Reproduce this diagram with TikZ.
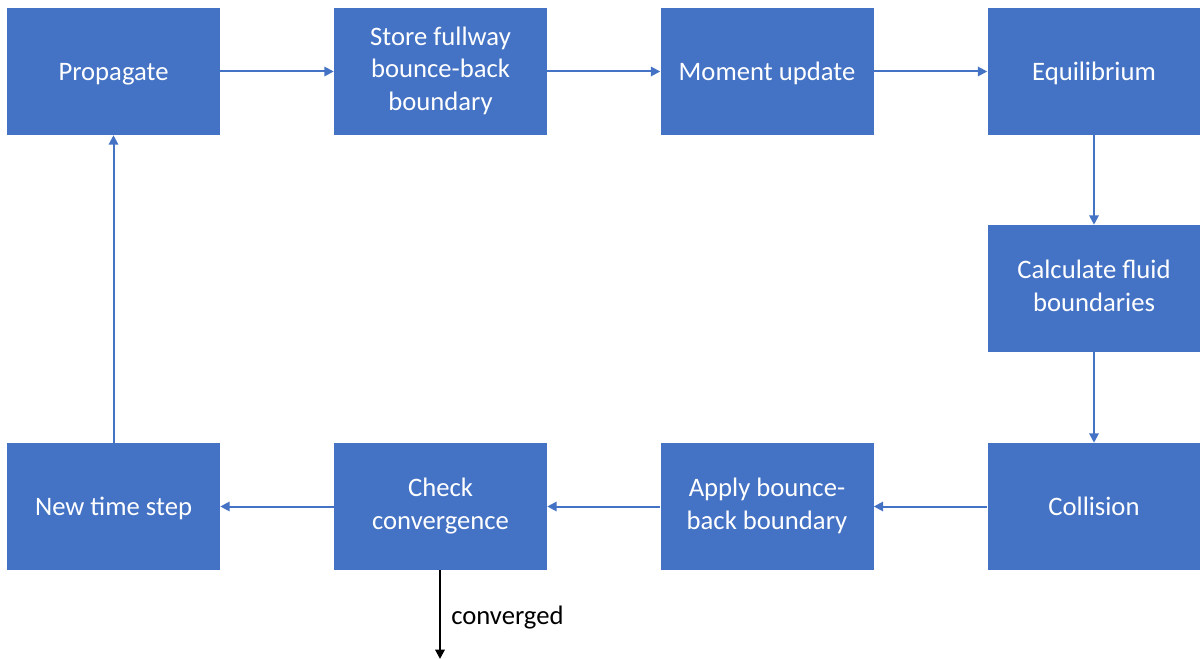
\documentclass[tikz,border=0pt]{standalone}
\usepackage{fontspec}
\setmainfont{Carlito}
\usetikzlibrary{arrows.meta}
\definecolor{boxblue}{HTML}{4472C4}
\tikzset{
  stepbox/.style={fill=boxblue, draw=none, text=white, align=center,
    minimum width=213*0.75pt, minimum height=127*0.75pt, inner sep=0pt,
    font=\fontsize{20}{24.5}\selectfont,
    % fixed struts so every label sits at the same height in its box
    execute at begin node={\rule{0pt}{17.5pt}},
    execute at end node={\rule[-4.5pt]{0pt}{4.5pt}}},
  flow/.style={draw=boxblue, line width=1.5pt,
    -{Triangle[length=7pt,width=7pt]}},
  exitflow/.style={draw=black, line width=1.5pt,
    -{Triangle[length=7pt,width=7pt]}}
}
\begin{document}
\begin{tikzpicture}[x=0.75pt,y=-0.75pt]
\useasboundingbox (0,0) rectangle (1200,659);
% top row
\node[stepbox] (prop)  at (113.5,71.5) {Propagate};
\node[stepbox] (store) at (440.5,71.5) {Store fullway\\bounce-back\\boundary};
\node[stepbox] (mom)   at (767,71.5)   {Moment update};
\node[stepbox] (eq)    at (1094,71.5)  {Equilibrium};
% right column
\node[stepbox] (calc)  at (1094,288.5) {Calculate fluid\\boundaries};
% bottom row
\node[stepbox] (coll)  at (1094,506.5) {Collision};
\node[stepbox] (apply) at (767,506.5)  {Apply bounce-\\back boundary};
\node[stepbox] (check) at (440.5,506.5){Check\\convergence};
\node[stepbox] (newt)  at (113.5,506.5){New time step};
% loop connectors
\draw[flow] (prop) -- (store);
\draw[flow] (store) -- (mom);
\draw[flow] (mom) -- (eq);
\draw[flow] (eq) -- (calc);
\draw[flow] (calc) -- (coll);
\draw[flow] (coll) -- (apply);
\draw[flow] (apply) -- (check);
\draw[flow] (check) -- (newt);
\draw[flow] (newt) -- (prop);
% exit on convergence
\coordinate (out) at (440,659);
\draw[exitflow] (check.south -| out) -- (out);
\node[anchor=west, inner sep=0pt, font=\fontsize{20}{24.5}\selectfont] (conv) at (451,618) {converged};
\end{tikzpicture}
\end{document}
